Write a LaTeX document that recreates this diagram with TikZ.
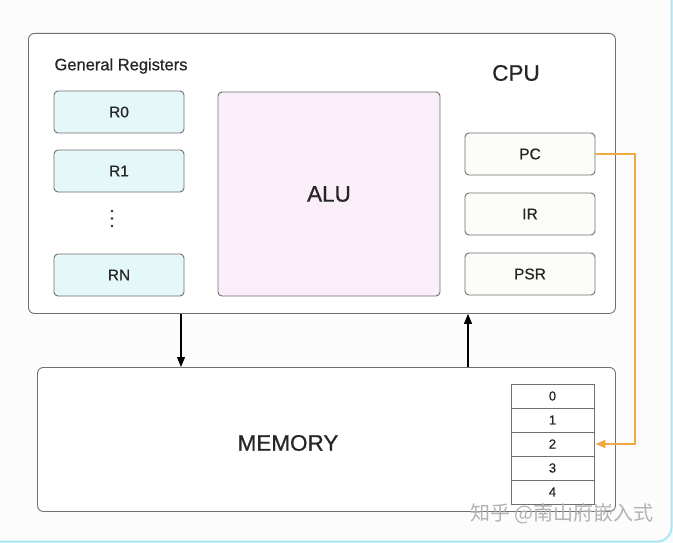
\documentclass[tikz,border=0pt]{standalone}
\usepackage{fontspec}
\setmainfont{Liberation Sans}[RawFeature={embolden=0.7}]
\newfontfamily\cjk{Noto Sans CJK SC}
\usetikzlibrary{arrows.meta}
\definecolor{boxline}{HTML}{707070}
\definecolor{regfill}{HTML}{E4F7F9}
\definecolor{alufill}{HTML}{FAEEF8}
\definecolor{spfill}{HTML}{FCFCF9}
\definecolor{orangeln}{HTML}{F0A843}
\definecolor{txt}{HTML}{262626}
\definecolor{frame}{HTML}{A8E6F7}
\tikzset{
  box/.style={draw=boxline, line width=0.9pt, rounded corners=4pt},
  reg/.style={box, fill=regfill, minimum width=130pt, minimum height=42pt, font=\fontsize{15.5}{18}\selectfont, text=txt},
  sreg/.style={box, fill=spfill, minimum width=130pt, minimum height=42pt, font=\fontsize{15.5}{18}\selectfont, text=txt},
  cell/.style={draw=boxline, line width=0.9pt, minimum width=83pt, minimum height=24pt, inner sep=0pt, font=\fontsize{13}{15}\selectfont, text=txt},
  big/.style={font=\fontsize{22.5}{26}\selectfont, text=txt},
  arr/.style={-{Triangle[length=10pt,width=8pt]}, line width=1.1pt, draw=black},
  dot/.style={circle, fill=txt, inner sep=0pt, minimum size=2.8pt}
}
\begin{document}
\begin{tikzpicture}[x=1pt,y=-1pt]
\useasboundingbox (0,0) rectangle (673,543);
\fill[white!96!cyan] (0,0) rectangle (673,543);
\draw[frame, line width=2pt, rounded corners=14pt, fill=white!99!black] (-20,-20) rectangle (671.5,541.5);
% CPU
\node[box, fill=white, minimum width=587pt, minimum height=280pt, anchor=north west, rounded corners=6pt] (cpu) at (28,33) {};
\node[anchor=west, font=\fontsize{16.5}{19}\selectfont, text=txt] (gr) at (51,66) {General Registers};
\node[big] (cputxt) at (516,73) {CPU};
\node[reg] (r0) at (119,112) {R0};
\node[reg] (r1) at (119,171) {R1};
\node[dot] (d1) at (112,211) {};
\node[dot] (d2) at (112,218.5) {};
\node[dot] (d3) at (112,226) {};
\node[reg] (rn) at (119,275) {RN};
\node[box, fill=alufill, minimum width=222pt, minimum height=204pt] (alu) at (329,194) {};
\node[big] (alutxt) at (329,194) {ALU};
\node[sreg] (pc) at (530,154) {PC};
\node[sreg] (ir) at (530,214) {IR};
\node[sreg] (psr) at (530,274) {PSR};
% Memory
\node[box, fill=white, minimum width=578pt, minimum height=144pt, anchor=north west, rounded corners=6pt] (mem) at (37,367) {};
\node[big] (memtxt) at (288,443) {MEMORY};
\node[cell] (m0) at (552.5,396) {0};
\node[cell] (m1) at (552.5,420) {1};
\node[cell] (m2) at (552.5,444) {2};
\node[cell] (m3) at (552.5,468) {3};
\node[cell] (m4) at (552.5,492) {4};
% arrows
\draw[arr] (cpu.south west -| 181,0) -- (mem.north west -| 181,0);
\draw[arr] (mem.north west -| 468,0) -- (cpu.south west -| 468,0);
\coordinate (c1) at (635,154);
\draw[orangeln, line width=1.4pt, -{Triangle[length=10pt,width=8pt]}] (pc.east) -- (c1) |- ([xshift=1pt]m2.east);
% watermark
\node[anchor=east, text=gray!60, font=\cjk\fontsize{20}{22}\selectfont] (wm) at (657,514) {知乎 @南山府嵌入式};
\end{tikzpicture}
\end{document}
